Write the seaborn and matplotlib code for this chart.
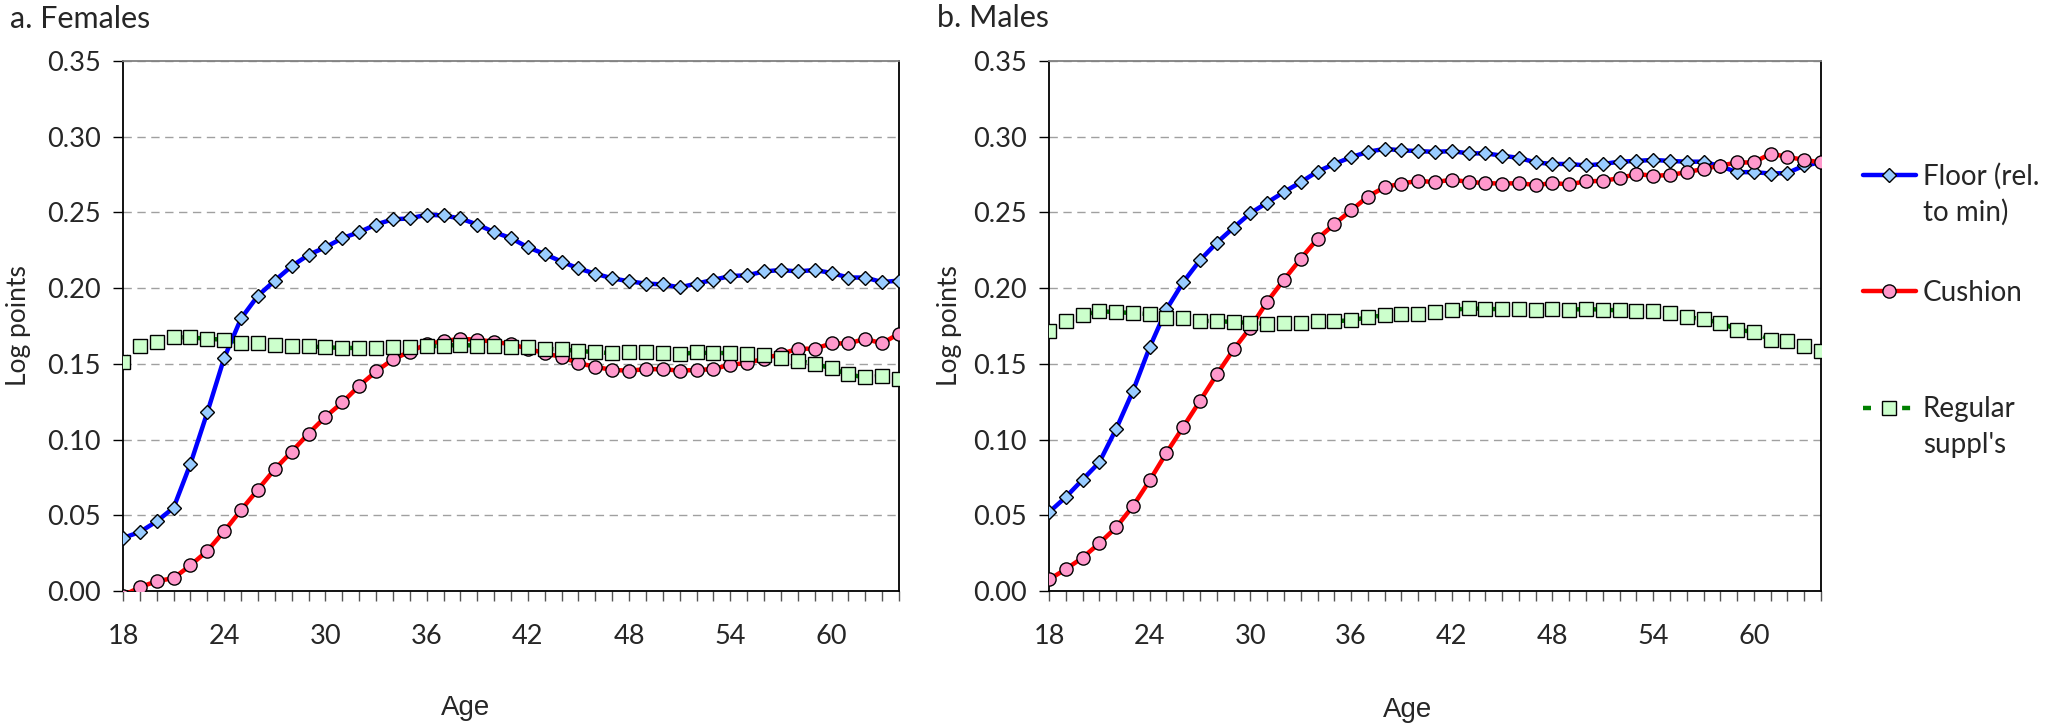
import matplotlib
matplotlib.use("Agg")
import matplotlib.pyplot as plt
from matplotlib.ticker import MultipleLocator, FormatStrFormatter
import numpy as np
import pandas as pd
import seaborn as sns

ages = list(range(18, 65))

fem_floor = [0.035, 0.039, 0.046, 0.055, 0.084, 0.118, 0.154, 0.180, 0.195, 0.205,
             0.2145, 0.222, 0.227, 0.233, 0.237, 0.242, 0.2455, 0.246, 0.2485, 0.248,
             0.246, 0.242, 0.237, 0.233, 0.227, 0.2225, 0.2175, 0.213, 0.2095, 0.2065,
             0.2045, 0.203, 0.2025, 0.2005, 0.203, 0.2055, 0.208, 0.2085, 0.211, 0.212,
             0.211, 0.212, 0.210, 0.207, 0.207, 0.204, 0.205]
fem_cushion = [-0.003, 0.0025, 0.0065, 0.0085, 0.017, 0.0265, 0.0395, 0.0535, 0.067, 0.0805,
               0.092, 0.104, 0.115, 0.1245, 0.1355, 0.145, 0.153, 0.158, 0.163, 0.165,
               0.1665, 0.166, 0.1645, 0.163, 0.160, 0.157, 0.1545, 0.1505, 0.148, 0.146,
               0.1455, 0.1465, 0.1465, 0.1455, 0.146, 0.1465, 0.1495, 0.1505, 0.1535, 0.1565,
               0.160, 0.160, 0.1635, 0.1635, 0.1665, 0.1635, 0.170]
fem_regular = [0.1515, 0.1615, 0.1645, 0.1675, 0.1675, 0.1665, 0.166, 0.164, 0.1635, 0.1625,
               0.1615, 0.1615, 0.161, 0.1605, 0.1605, 0.1605, 0.161, 0.161, 0.1615, 0.162,
               0.1625, 0.162, 0.162, 0.1612, 0.161, 0.160, 0.1595, 0.1585, 0.1578, 0.157,
               0.1575, 0.1575, 0.157, 0.1565, 0.1575, 0.157, 0.1573, 0.1566, 0.1557, 0.1538,
               0.152, 0.150, 0.147, 0.143, 0.141, 0.142, 0.140]

male_floor = [0.052, 0.062, 0.0735, 0.085, 0.107, 0.132, 0.161, 0.186, 0.204, 0.2185,
              0.230, 0.240, 0.2495, 0.2565, 0.2635, 0.270, 0.277, 0.282, 0.2865, 0.290,
              0.292, 0.291, 0.2905, 0.290, 0.2905, 0.289, 0.289, 0.2875, 0.286, 0.283,
              0.282, 0.282, 0.281, 0.282, 0.2835, 0.284, 0.2847, 0.284, 0.2835, 0.2835,
              0.2805, 0.2766, 0.2766, 0.2757, 0.276, 0.281, 0.283]
male_cushion = [0.0076, 0.0144, 0.022, 0.0315, 0.042, 0.056, 0.073, 0.0913, 0.1084, 0.1256,
                0.143, 0.1595, 0.174, 0.191, 0.2056, 0.2194, 0.2326, 0.2423, 0.2513, 0.2605,
                0.2667, 0.269, 0.2709, 0.270, 0.2716, 0.2702, 0.2693, 0.2691, 0.2693, 0.2681,
                0.2693, 0.2686, 0.2705, 0.2709, 0.2726, 0.2754, 0.2742, 0.2747, 0.2766, 0.2787,
                0.2809, 0.283, 0.283, 0.2889, 0.2866, 0.2847, 0.283]
male_regular = [0.1718, 0.1782, 0.1824, 0.1848, 0.1841, 0.1836, 0.1829, 0.1806, 0.1801, 0.1784,
                0.1782, 0.1777, 0.177, 0.1765, 0.1768, 0.1772, 0.1782, 0.1782, 0.1787, 0.1808,
                0.182, 0.1829, 0.1832, 0.1843, 0.1855, 0.1867, 0.1862, 0.1862, 0.186, 0.1858,
                0.1862, 0.1858, 0.1862, 0.1858, 0.1853, 0.1848, 0.1848, 0.1836, 0.181, 0.1794,
                0.1772, 0.1725, 0.1711, 0.1659, 0.1654, 0.1621, 0.1585]

series_labels = ["Floor (rel.\nto min)", "Cushion", "Regular\nsuppl's"]
panel_titles = ["a. Females", "b. Males"]

sns.set_style("white")
plt.rcParams["font.family"] = ["Lato", "DejaVu Sans"]

styles = [
    dict(color="#0000FF", marker="D", markersize=7.5, markerfacecolor="#99CCFF",
         markeredgecolor="black", markeredgewidth=1.0, linewidth=3.2, linestyle="-"),
    dict(color="#FF0000", marker="o", markersize=9.5, markerfacecolor="#FF99CC",
         markeredgecolor="black", markeredgewidth=1.0, linewidth=3.2, linestyle="-"),
    dict(color="#008000", marker="s", markersize=9.5, markerfacecolor="#CCFFCC",
         markeredgecolor="black", markeredgewidth=1.0, linewidth=3.2, linestyle=(0, (1.8, 2.6))),
]

W, H = 2049, 726
fig = plt.figure(figsize=(W / 100, H / 100), dpi=100)
ax_a = fig.add_axes([123 / W, 1 - 591 / H, 776 / W, 530 / H])
ax_b = fig.add_axes([1049 / W, 1 - 591 / H, 772 / W, 530 / H])

panels = [(ax_a, [fem_floor, fem_cushion, fem_regular]),
          (ax_b, [male_floor, male_cushion, male_regular])]

for ax, data in panels:
    for vals, lab, st in zip(data, series_labels, styles):
        sns.lineplot(x=ages, y=vals, ax=ax, label=lab.split("\n")[0], zorder=3, **st)
    ax.set_xlim(18, 64)
    ax.set_ylim(0, 0.35)
    ax.xaxis.set_major_locator(MultipleLocator(6))
    ax.xaxis.set_minor_locator(MultipleLocator(1))
    ax.yaxis.set_major_locator(MultipleLocator(0.05))
    ax.yaxis.set_major_formatter(FormatStrFormatter("%.2f"))
    ax.tick_params(axis="y", which="major", direction="out", length=7, width=1,
                   color="black", labelsize=19.5, pad=9, left=True)
    ax.tick_params(axis="x", which="both", direction="out", length=7, width=1,
                   color="#555555", bottom=True)
    ax.tick_params(axis="x", which="major", labelsize=19.5, pad=17)
    ax.grid(axis="y", color="#A0A0A0", linestyle=(0, (6, 4)), linewidth=1)
    ax.grid(axis="x", visible=False)
    for side in ["left", "bottom", "right"]:
        ax.spines[side].set_color("black")
        ax.spines[side].set_linewidth(1.3)
    ax.spines["top"].set_color("#808080")
    ax.spines["top"].set_linewidth(1.3)
    ax.set_ylabel("Log points", fontsize=19)
    ax.set_xlabel("Age", fontsize=20, family=["Liberation Sans", "DejaVu Sans"])
    ax.legend_.remove()

ax_a.yaxis.set_label_coords(-0.118, 0.5)
ax_b.yaxis.set_label_coords(-0.113, 0.5)
ax_a.xaxis.set_label_coords(0.441, -0.196)
ax_b.xaxis.set_label_coords(0.465, -0.200)

fig.text(10 / W, 1 - 19 / H, panel_titles[0], fontsize=22, va="center", ha="left")
fig.text(937 / W, 1 - 18 / H, panel_titles[1], fontsize=22, va="center", ha="left")

handles, labels = ax_a.get_legend_handles_labels()
leg = fig.legend(handles, labels, loc="upper left", bbox_to_anchor=(1863 / W, 1 - 163 / H),
                 frameon=False, fontsize=20, handlelength=1.9, handletextpad=0.25,
                 labelspacing=3.25, borderaxespad=0, borderpad=0)

# second lines of the wrapped legend labels sit under the first line
fig.canvas.draw()
for txt, full in zip(leg.get_texts(), series_labels):
    parts = full.split("\n")
    if len(parts) > 1:
        bb = txt.get_window_extent()
        yc = (bb.y0 + bb.y1) / 2 - 36
        fig.text(bb.x0 / W, yc / H, parts[1], fontsize=20, va="center", ha="left")

fig.savefig("out.png", dpi=100)
